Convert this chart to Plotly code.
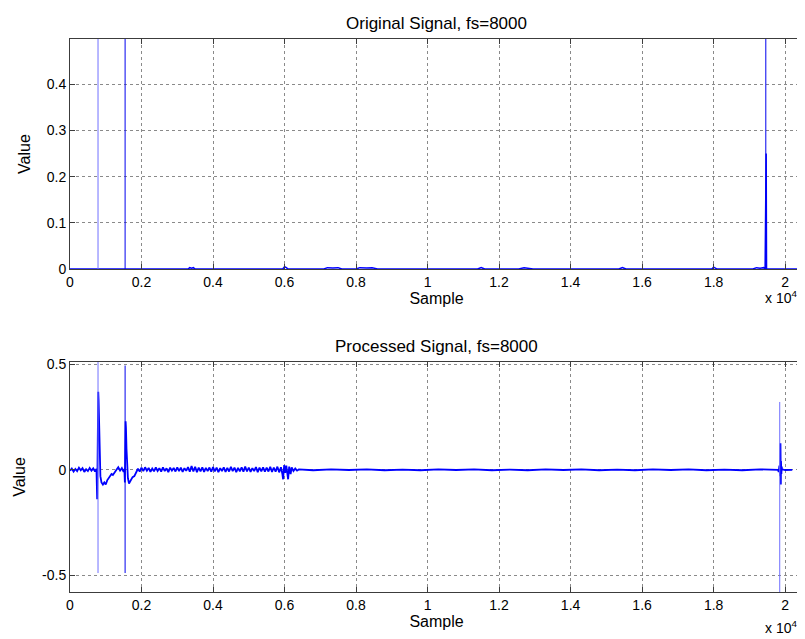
import plotly.graph_objects as go
from plotly.subplots import make_subplots

# x axis ticks (samples), shown scaled by 1e4
x_ticks = [0, 2000, 4000, 6000, 8000, 10000, 12000, 14000, 16000, 18000, 20000]
x_ticklabels = ["0", "0.2", "0.4", "0.6", "0.8", "1", "1.2", "1.4", "1.6", "1.8", "2"]

# --- original signal: baseline with small bumps ---
orig_x = [0, 3300, 3350, 3400, 3450, 3500, 5950, 6000, 6050, 6100, 7100, 7200, 7350, 7500, 7600,
          8000, 8100, 8300, 8450, 8600, 11400, 11500, 11600, 12550, 12700, 12850, 12950,
          15350, 15450, 15550, 17950, 18000, 18100, 19100, 19200, 19300, 19400, 19440,
          19450, 19455, 19465, 19470, 19480, 20500]
orig_y = [0, 0, 0.003, 0.002, 0.003, 0, 0, 0.005, 0.003, 0, 0, 0.003, 0.002, 0.003, 0,
          0, 0.003, 0.002, 0.003, 0, 0, 0.003, 0, 0, 0.003, 0.002, 0,
          0, 0.003, 0, 0, 0.004, 0, 0, 0.003, 0.002, 0.003, 0,
          0.25, 0.12, 0.2, 0.25, 0, 0]

# single-sample impulses in the original signal
orig_spike_x = [784, 1541, 19460]
orig_spike_y = [0.55, 0.55, 0.55]
orig_spike_col = ["#7070ff", "#0000ee", "#0000ee"]

# --- processed signal ---
proc_x = [0, 50, 100, 150, 200, 250, 300, 350, 400, 450, 500, 550, 600, 650, 700, 740,
          760, 770, 780, 790, 800, 810, 820, 830, 850, 880, 920, 960, 1000, 1040, 1080, 1120,
          1160, 1200, 1250, 1300, 1350, 1400, 1450, 1500, 1520, 1535, 1545, 1555, 1565, 1580,
          1600, 1620, 1650, 1700, 1750, 1800, 1850, 1900,
          1950, 2000, 2050, 2100, 2150, 2200, 2250, 2300, 2350, 2400, 2450, 2500, 2550, 2600,
          2650, 2700, 2750, 2800, 2850, 2900, 2950, 3000, 3050, 3100, 3150, 3200, 3250, 3300,
          3350, 3400, 3450, 3500, 3550, 3600, 3650, 3700, 3750, 3800, 3850, 3900, 3950, 4000,
          4050, 4100, 4150, 4200, 4250, 4300, 4350, 4400, 4450, 4500, 4550, 4600, 4650, 4700,
          4750, 4800, 4850, 4900, 4950, 5000, 5050, 5100, 5150, 5200, 5250, 5300, 5350, 5400,
          5450, 5500, 5550, 5600, 5650, 5700, 5750, 5800, 5850, 5900, 5940, 5960, 5990, 6020,
          6050, 6080, 6100, 6130, 6170, 6200, 6250, 6300, 6350, 6400,
          6800, 7300, 7800, 8300, 8800, 9300, 9800, 10300, 10800, 11300, 11800, 12300, 12800,
          13300, 13800, 14300, 14800, 15300, 15800, 16300, 16800, 17300, 17800, 18300, 18800,
          19300, 19600, 19800, 19820, 19840, 19860, 19870, 19880, 19885, 19895, 19905, 19915,
          19930, 20000, 20200, 20500]
proc_y = [-0.004, 0.006, -0.008, 0.004, -0.006, 0.010, -0.002, 0.008, -0.010, 0.003, -0.006,
          0.009, -0.004, 0.007, -0.008, 0.004,
          -0.14, 0.17, 0.30, 0.37, 0.33, 0.22, 0.10, 0.02, -0.03, -0.06, -0.07, -0.06, -0.07,
          -0.05, -0.04, -0.03, -0.02, -0.025, -0.01, 0.0, 0.012, -0.004, 0.008, -0.010, 0.004,
          -0.06, 0.10, 0.23, 0.20, 0.10, 0.02, -0.04, -0.065, -0.05, -0.035, -0.03, -0.01, 0.005,
          -0.008, 0.010, -0.006, 0.012, -0.004, 0.009, -0.010, 0.006, -0.007, 0.011, -0.005,
          0.008, -0.009, 0.012, -0.006, 0.007, -0.011, 0.010, -0.004, 0.009, -0.008, 0.012,
          -0.006, 0.010, -0.010, 0.008, -0.005, 0.013, -0.009, 0.018, -0.008, 0.014, -0.011,
          0.010, -0.007, 0.012, -0.010, 0.009, -0.006, 0.011, -0.009, 0.013, -0.007, 0.010,
          -0.011, 0.008, -0.006, 0.012, -0.010, 0.009, -0.008, 0.014, -0.006, 0.010, -0.011,
          0.009, -0.007, 0.012, -0.009, 0.016, -0.008, 0.011, -0.010, 0.008, -0.006, 0.013,
          -0.011, 0.010, -0.007, 0.012, -0.009, 0.010, -0.008, 0.014, -0.010, 0.011, -0.009,
          0.015, -0.012, 0.012, -0.020, -0.045, 0.022, -0.015, 0.020, -0.03, -0.045, 0.015,
          -0.02, 0.012, -0.006, 0.006, -0.004, 0.002,
          -0.002, 0.002, -0.001, 0.002, -0.002, 0.001, -0.002, 0.002, -0.001, 0.002, -0.002,
          0.001, -0.002, 0.002, -0.001, 0.002, -0.002, 0.001, -0.002, 0.002, -0.001, 0.002,
          -0.002, 0.001, -0.002, 0.002, -0.001, 0.0, -0.01, 0.02, -0.03, 0.126, -0.07, 0.04,
          -0.02, 0.015, 0.0, 0.002, -0.001, 0.0]

# single-sample impulses in the processed signal
proc_spike_x = [784, 1541, 19849]
proc_spike_hi = [0.55, 0.495, 0.322]
proc_spike_lo = [-0.49, -0.49, -0.65]
proc_spike_col = ["#7070ff", "#0000ee", "#7070ff"]

fig = make_subplots(rows=2, cols=1, vertical_spacing=0.168)

fig.add_trace(go.Scatter(x=orig_x, y=orig_y, mode="lines",
                         line=dict(color="#0000ff", width=1.5)), row=1, col=1)
for sx, sy, c in zip(orig_spike_x, orig_spike_y, orig_spike_col):
    fig.add_trace(go.Scatter(x=[sx, sx], y=[0, sy], mode="lines",
                             line=dict(color=c, width=1)), row=1, col=1)

fig.add_trace(go.Scatter(x=proc_x, y=proc_y, mode="lines",
                         line=dict(color="#0000ff", width=1.8)), row=2, col=1)
for sx, hi, lo, c in zip(proc_spike_x, proc_spike_hi, proc_spike_lo, proc_spike_col):
    fig.add_trace(go.Scatter(x=[sx, sx], y=[lo, hi], mode="lines",
                             line=dict(color=c, width=1)), row=2, col=1)

axis_style = dict(showline=True, linecolor="#3c3c3c", linewidth=1, mirror="ticks",
                  ticks="inside", ticklen=5, tickcolor="#3c3c3c",
                  showgrid=True, gridcolor="#8a8a8a", griddash="dot", gridwidth=1,
                  zeroline=False, tickfont=dict(size=14, color="black"))

for r in (1, 2):
    fig.update_xaxes(range=[0, 20500], tickvals=x_ticks, ticktext=x_ticklabels,
                     title=dict(text="Sample", font=dict(size=16, color="black"), standoff=2),
                     row=r, col=1, **axis_style)
fig.update_yaxes(range=[0, 0.498], tickvals=[0, 0.1, 0.2, 0.3, 0.4],
                 ticktext=["0", "0.1", "0.2", "0.3", "0.4"],
                 title=dict(text="Value", font=dict(size=16, color="black"), standoff=12),
                 row=1, col=1, **axis_style)
fig.update_yaxes(range=[-0.58, 0.512], tickvals=[-0.5, 0, 0.5],
                 ticktext=["-0.5", "0", "0.5"],
                 title=dict(text="Value", font=dict(size=16, color="black"), standoff=12),
                 row=2, col=1, **axis_style)

fig.add_annotation(text="Original Signal, fs=8000", xref="paper", yref="paper",
                   x=0.5, y=1.0, yanchor="bottom", yshift=4, showarrow=False,
                   font=dict(size=17, color="black"))
fig.add_annotation(text="Processed Signal, fs=8000", xref="paper", yref="paper",
                   x=0.5, y=0.416, yanchor="bottom", yshift=4, showarrow=False,
                   font=dict(size=17, color="black"))
fig.add_annotation(text="x 10<sup>4</sup>", xref="paper", yref="paper",
                   x=1.0, y=0.584, xanchor="right", yanchor="top", yshift=-17, xshift=-4,
                   showarrow=False, font=dict(size=14, color="black"))
fig.add_annotation(text="x 10<sup>4</sup>", xref="paper", yref="paper",
                   x=1.0, y=0.0, xanchor="right", yanchor="top", yshift=-24, xshift=-4,
                   showarrow=False, font=dict(size=14, color="black"))

# the page places the figure 8px in from the top-left corner
fig.update_layout(width=797, height=631, showlegend=False,
                  margin=dict(l=62, r=2, t=31, b=47),
                  plot_bgcolor="white", paper_bgcolor="white",
                  font=dict(family="Liberation Sans, Arial, sans-serif", color="black"))

fig.write_html("out.html")
